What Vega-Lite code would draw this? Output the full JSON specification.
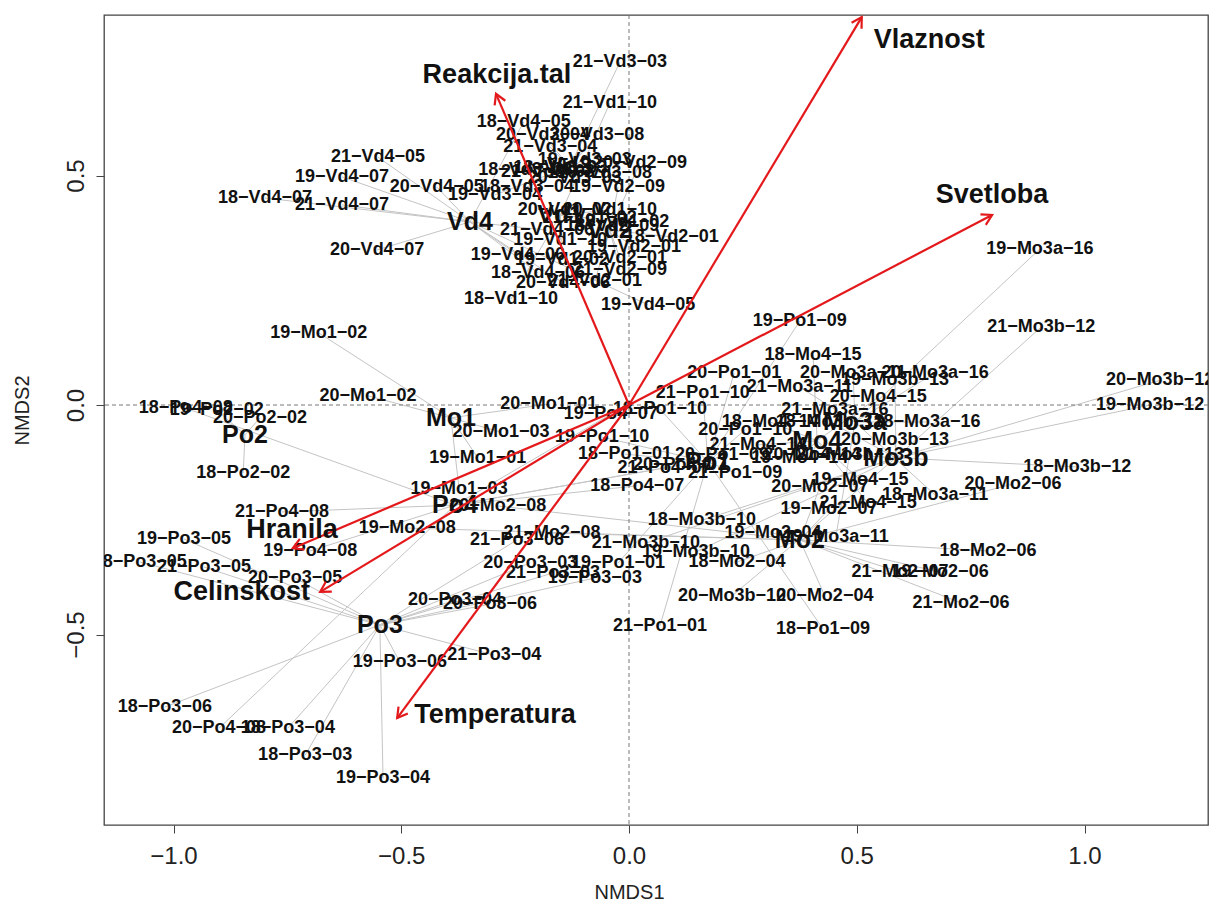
{
  "$schema": "https://vega.github.io/schema/vega-lite/v6.json",
  "width": 1104,
  "height": 810,
  "autosize": {"type": "none"},
  "padding": {"left": 104, "top": 15, "right": 4, "bottom": 86},
  "background": "white",
  "config": {
    "font": "Liberation Sans",
    "view": {"stroke": "#444", "strokeWidth": 1.3},
    "axis": {"grid": false, "domain": false, "tickColor": "#444", "tickSize": 8, "labelFont": "Liberation Sans", "labelFontSize": 24, "labelColor": "#222", "titleFont": "Liberation Sans", "titleFontSize": 20, "titleFontWeight": "normal", "titleColor": "#222"}
  },
  "datasets": {
    "sites": [
      {"label": "18−Vd4−05", "group": "Vd4", "x": -0.231, "y": 0.617},
      {"label": "21−Vd4−05", "group": "Vd4", "x": -0.551, "y": 0.540},
      {"label": "19−Vd4−07", "group": "Vd4", "x": -0.630, "y": 0.497},
      {"label": "20−Vd4−05", "group": "Vd4", "x": -0.422, "y": 0.475},
      {"label": "18−Vd4−07", "group": "Vd4", "x": -0.799, "y": 0.451},
      {"label": "21−Vd4−07", "group": "Vd4", "x": -0.630, "y": 0.436},
      {"label": "20−Vd4−07", "group": "Vd4", "x": -0.553, "y": 0.338},
      {"label": "19−Vd4−06", "group": "Vd4", "x": -0.244, "y": 0.327},
      {"label": "18−Vd4−06", "group": "Vd4", "x": -0.200, "y": 0.288},
      {"label": "20−Vd4−06", "group": "Vd4", "x": -0.145, "y": 0.266},
      {"label": "19−Vd4−05", "group": "Vd4", "x": 0.042, "y": 0.218},
      {"label": "21−Vd4−06", "group": "Vd4", "x": -0.180, "y": 0.381},
      {"label": "21−Vd3−03", "group": "Vd3", "x": -0.020, "y": 0.747},
      {"label": "20−Vd3−04", "group": "Vd3", "x": -0.189, "y": 0.588},
      {"label": "20−Vd3−08", "group": "Vd3", "x": -0.070, "y": 0.588},
      {"label": "21−Vd3−04", "group": "Vd3", "x": -0.173, "y": 0.562},
      {"label": "18−Vd3−08", "group": "Vd3", "x": -0.228, "y": 0.512},
      {"label": "19−Vd3−08", "group": "Vd3", "x": -0.053, "y": 0.505},
      {"label": "18−Vd3−04", "group": "Vd3", "x": -0.224, "y": 0.475},
      {"label": "19−Vd3−04", "group": "Vd3", "x": -0.294, "y": 0.458},
      {"label": "18−Vd3−03", "group": "Vd3", "x": -0.151, "y": 0.516},
      {"label": "19−Vd3−03", "group": "Vd3", "x": -0.097, "y": 0.534},
      {"label": "20−Vd3−03", "group": "Vd3", "x": -0.119, "y": 0.495},
      {"label": "21−Vd3−08", "group": "Vd3", "x": -0.178, "y": 0.508},
      {"label": "21−Vd1−10", "group": "Vd1", "x": -0.042, "y": 0.658},
      {"label": "20−Vd1−02", "group": "Vd1", "x": -0.141, "y": 0.425},
      {"label": "20−Vd1−10", "group": "Vd1", "x": -0.042, "y": 0.425},
      {"label": "18−Vd1−02", "group": "Vd1", "x": -0.015, "y": 0.399},
      {"label": "19−Vd1−10", "group": "Vd1", "x": -0.151, "y": 0.359},
      {"label": "19−Vd1−02", "group": "Vd1", "x": -0.147, "y": 0.316},
      {"label": "18−Vd1−10", "group": "Vd1", "x": -0.259, "y": 0.231},
      {"label": "21−Vd1−02", "group": "Vd1", "x": -0.086, "y": 0.407},
      {"label": "20−Vd2−09", "group": "Vd2", "x": 0.024, "y": 0.527},
      {"label": "19−Vd2−09", "group": "Vd2", "x": -0.024, "y": 0.475},
      {"label": "18−Vd2−01", "group": "Vd2", "x": 0.094, "y": 0.366},
      {"label": "19−Vd2−01", "group": "Vd2", "x": 0.011, "y": 0.344},
      {"label": "20−Vd2−01", "group": "Vd2", "x": -0.020, "y": 0.320},
      {"label": "21−Vd2−09", "group": "Vd2", "x": -0.020, "y": 0.294},
      {"label": "21−Vd2−01", "group": "Vd2", "x": -0.075, "y": 0.270},
      {"label": "18−Vd2−09", "group": "Vd2", "x": -0.037, "y": 0.390},
      {"label": "19−Mo1−02", "group": "Mo1", "x": -0.681, "y": 0.157},
      {"label": "20−Mo1−02", "group": "Mo1", "x": -0.573, "y": 0.020},
      {"label": "20−Mo1−01", "group": "Mo1", "x": -0.176, "y": 0.002},
      {"label": "20−Mo1−03", "group": "Mo1", "x": -0.281, "y": -0.059},
      {"label": "19−Mo1−01", "group": "Mo1", "x": -0.332, "y": -0.115},
      {"label": "19−Mo1−03", "group": "Mo1", "x": -0.373, "y": -0.183},
      {"label": "19−Po2−02", "group": "Po2", "x": -0.905, "y": -0.011},
      {"label": "20−Po2−02", "group": "Po2", "x": -0.810, "y": -0.028},
      {"label": "18−Po2−02", "group": "Po2", "x": -0.847, "y": -0.148},
      {"label": "18−Po4−08", "group": "Po4", "x": -0.973, "y": -0.007},
      {"label": "19−Po4−07", "group": "Po4", "x": -0.040, "y": -0.020},
      {"label": "21−Po4−08", "group": "Po4", "x": -0.762, "y": -0.233},
      {"label": "19−Po4−08", "group": "Po4", "x": -0.700, "y": -0.318},
      {"label": "18−Po4−07", "group": "Po4", "x": 0.018, "y": -0.176},
      {"label": "20−Po4−08", "group": "Po4", "x": -0.900, "y": -0.704},
      {"label": "21−Po4−07", "group": "Po4", "x": 0.078, "y": -0.137},
      {"label": "20−Po4−07", "group": "Po4", "x": 0.112, "y": -0.131},
      {"label": "19−Po3−05", "group": "Po3", "x": -0.977, "y": -0.292},
      {"label": "18−Po3−05", "group": "Po3", "x": -1.074, "y": -0.342},
      {"label": "21−Po3−05", "group": "Po3", "x": -0.933, "y": -0.353},
      {"label": "20−Po3−05", "group": "Po3", "x": -0.733, "y": -0.377},
      {"label": "21−Po3−06", "group": "Po3", "x": -0.246, "y": -0.294},
      {"label": "20−Po3−03", "group": "Po3", "x": -0.217, "y": -0.344},
      {"label": "21−Po3−03", "group": "Po3", "x": -0.167, "y": -0.366},
      {"label": "19−Po3−03", "group": "Po3", "x": -0.075, "y": -0.377},
      {"label": "20−Po3−04", "group": "Po3", "x": -0.382, "y": -0.425},
      {"label": "20−Po3−06", "group": "Po3", "x": -0.305, "y": -0.434},
      {"label": "21−Po3−04", "group": "Po3", "x": -0.296, "y": -0.545},
      {"label": "19−Po3−06", "group": "Po3", "x": -0.503, "y": -0.560},
      {"label": "18−Po3−06", "group": "Po3", "x": -1.019, "y": -0.658},
      {"label": "18−Po3−04", "group": "Po3", "x": -0.749, "y": -0.704},
      {"label": "18−Po3−03", "group": "Po3", "x": -0.711, "y": -0.763},
      {"label": "19−Po3−04", "group": "Po3", "x": -0.540, "y": -0.813},
      {"label": "19−Po1−09", "group": "Po1", "x": 0.375, "y": 0.183},
      {"label": "20−Po1−01", "group": "Po1", "x": 0.231, "y": 0.070},
      {"label": "21−Po1−10", "group": "Po1", "x": 0.162, "y": 0.026},
      {"label": "18−Po1−10", "group": "Po1", "x": 0.068, "y": -0.009},
      {"label": "19−Po1−10", "group": "Po1", "x": -0.059, "y": -0.070},
      {"label": "18−Po1−01", "group": "Po1", "x": -0.009, "y": -0.107},
      {"label": "21−Po1−09", "group": "Po1", "x": 0.233, "y": -0.148},
      {"label": "19−Po1−01", "group": "Po1", "x": -0.024, "y": -0.344},
      {"label": "21−Po1−01", "group": "Po1", "x": 0.068, "y": -0.481},
      {"label": "18−Po1−09", "group": "Po1", "x": 0.426, "y": -0.488},
      {"label": "20−Po1−10", "group": "Po1", "x": 0.255, "y": -0.054},
      {"label": "20−Po1−09", "group": "Po1", "x": 0.204, "y": -0.109},
      {"label": "19−Mo2−08", "group": "Mo2", "x": -0.487, "y": -0.268},
      {"label": "20−Mo2−08", "group": "Mo2", "x": -0.288, "y": -0.220},
      {"label": "21−Mo2−08", "group": "Mo2", "x": -0.169, "y": -0.279},
      {"label": "18−Mo2−04", "group": "Mo2", "x": 0.237, "y": -0.342},
      {"label": "19−Mo2−04", "group": "Mo2", "x": 0.316, "y": -0.279},
      {"label": "20−Mo2−04", "group": "Mo2", "x": 0.430, "y": -0.416},
      {"label": "18−Mo2−06", "group": "Mo2", "x": 0.788, "y": -0.318},
      {"label": "21−Mo2−06", "group": "Mo2", "x": 0.729, "y": -0.431},
      {"label": "19−Mo2−06", "group": "Mo2", "x": 0.683, "y": -0.364},
      {"label": "21−Mo2−07", "group": "Mo2", "x": 0.595, "y": -0.364},
      {"label": "20−Mo2−06", "group": "Mo2", "x": 0.843, "y": -0.172},
      {"label": "19−Mo2−07", "group": "Mo2", "x": 0.439, "y": -0.227},
      {"label": "20−Mo2−07", "group": "Mo2", "x": 0.419, "y": -0.179},
      {"label": "18−Mo4−15", "group": "Mo4", "x": 0.404, "y": 0.109},
      {"label": "20−Mo4−15", "group": "Mo4", "x": 0.547, "y": 0.017},
      {"label": "19−Mo4−15", "group": "Mo4", "x": 0.507, "y": -0.163},
      {"label": "21−Mo4−15", "group": "Mo4", "x": 0.525, "y": -0.214},
      {"label": "21−Mo4−14", "group": "Mo4", "x": 0.283, "y": -0.087},
      {"label": "20−Mo4−14", "group": "Mo4", "x": 0.402, "y": -0.109},
      {"label": "18−Mo4−14", "group": "Mo4", "x": 0.310, "y": -0.037},
      {"label": "19−Mo4−14", "group": "Mo4", "x": 0.375, "y": -0.115},
      {"label": "19−Mo3a−16", "group": "Mo3a", "x": 0.902, "y": 0.340},
      {"label": "20−Mo3a−16", "group": "Mo3a", "x": 0.672, "y": 0.070},
      {"label": "20−Mo3a−11", "group": "Mo3a", "x": 0.492, "y": 0.070},
      {"label": "21−Mo3a−11", "group": "Mo3a", "x": 0.375, "y": 0.039},
      {"label": "18−Mo3a−16", "group": "Mo3a", "x": 0.654, "y": -0.037},
      {"label": "18−Mo3a−11", "group": "Mo3a", "x": 0.672, "y": -0.196},
      {"label": "19−Mo3a−11", "group": "Mo3a", "x": 0.454, "y": -0.288},
      {"label": "21−Mo3a−16", "group": "Mo3a", "x": 0.452, "y": -0.011},
      {"label": "21−Mo3b−12", "group": "Mo3b", "x": 0.905, "y": 0.170},
      {"label": "20−Mo3b−12", "group": "Mo3b", "x": 1.166, "y": 0.054},
      {"label": "19−Mo3b−12", "group": "Mo3b", "x": 1.144, "y": 0.000},
      {"label": "18−Mo3b−12", "group": "Mo3b", "x": 0.984, "y": -0.135},
      {"label": "20−Mo3b−13", "group": "Mo3b", "x": 0.584, "y": -0.076},
      {"label": "19−Mo3b−13", "group": "Mo3b", "x": 0.584, "y": 0.054},
      {"label": "18−Mo3b−13", "group": "Mo3b", "x": 0.441, "y": -0.037},
      {"label": "21−Mo3b−13", "group": "Mo3b", "x": 0.485, "y": -0.109},
      {"label": "21−Mo3b−10", "group": "Mo3b", "x": 0.037, "y": -0.301},
      {"label": "18−Mo3b−10", "group": "Mo3b", "x": 0.160, "y": -0.251},
      {"label": "19−Mo3b−10", "group": "Mo3b", "x": 0.147, "y": -0.320},
      {"label": "20−Mo3b−10", "group": "Mo3b", "x": 0.226, "y": -0.416}
    ],
    "centroids": [
      {"group": "Vd4", "cx": -0.349, "cy": 0.399},
      {"group": "Vd3", "cx": -0.130, "cy": 0.519},
      {"group": "Vd1", "cx": -0.151, "cy": 0.414},
      {"group": "Vd2", "cx": -0.042, "cy": 0.381},
      {"group": "Mo1", "cx": -0.391, "cy": -0.028},
      {"group": "Po2", "cx": -0.843, "cy": -0.065},
      {"group": "Po4", "cx": -0.382, "cy": -0.218},
      {"group": "Po3", "cx": -0.547, "cy": -0.479},
      {"group": "Po1", "cx": 0.173, "cy": -0.124},
      {"group": "Mo4", "cx": 0.413, "cy": -0.078},
      {"group": "Mo3a", "cx": 0.496, "cy": -0.037},
      {"group": "Mo3b", "cx": 0.586, "cy": -0.115},
      {"group": "Mo2", "cx": 0.375, "cy": -0.294}
    ],
    "vectors": [
      {"name": "Vlaznost", "x": 0.511, "y": 0.845, "lx": 0.659, "ly": 0.795},
      {"name": "Reakcija.tal", "x": -0.292, "y": 0.678, "lx": -0.290, "ly": 0.719},
      {"name": "Svetloba", "x": 0.797, "y": 0.414, "lx": 0.797, "ly": 0.457},
      {"name": "Hranila", "x": -0.738, "y": -0.312, "lx": -0.740, "ly": -0.272},
      {"name": "Celinskost", "x": -0.678, "y": -0.407, "lx": -0.850, "ly": -0.407},
      {"name": "Temperatura", "x": -0.509, "y": -0.682, "lx": -0.294, "ly": -0.675}
    ]
  },
  "layer": [
    {
      "data": {"name": "sites"},
      "transform": [{"lookup": "group", "from": {"data": {"name": "centroids"}, "key": "group", "fields": ["cx", "cy"]}}],
      "mark": {"type": "rule", "color": "#c4c4c4", "strokeWidth": 1, "clip": true},
      "encoding": {
        "x": {"field": "x", "type": "quantitative", "scale": {"domain": [-1.1526, 1.2711], "nice": false, "zero": false}, "axis": {"values": [-1, -0.5, 0, 0.5, 1], "format": ".1f", "title": "NMDS1", "labelPadding": 11, "titlePadding": 14, "titleX": 525}},
        "y": {"field": "y", "type": "quantitative", "scale": {"domain": [-0.915, 0.8497], "nice": false, "zero": false}, "axis": {"values": [-0.5, 0, 0.5], "format": ".1f", "title": "NMDS2", "labelAngle": -90, "labelAlign": "center", "labelBaseline": "bottom", "labelPadding": 8, "titlePadding": 32, "titleY": 395}},
        "x2": {"field": "cx"},
        "y2": {"field": "cy"}
      }
    },
    {
      "data": {"values": [{}]},
      "mark": {"type": "rule", "color": "#777", "strokeWidth": 1, "strokeDash": [4, 3]},
      "encoding": {"x": {"datum": 0, "type": "quantitative"}}
    },
    {
      "data": {"values": [{}]},
      "mark": {"type": "rule", "color": "#777", "strokeWidth": 1, "strokeDash": [4, 3]},
      "encoding": {"y": {"datum": 0, "type": "quantitative"}}
    },
    {
      "data": {"name": "sites"},
      "mark": {"type": "text", "font": "Liberation Sans", "fontSize": 18, "fontWeight": "bold", "color": "#111", "align": "center", "baseline": "middle", "clip": true},
      "encoding": {
        "x": {"field": "x", "type": "quantitative"},
        "y": {"field": "y", "type": "quantitative"},
        "text": {"field": "label"}
      }
    },
    {
      "data": {"name": "centroids"},
      "mark": {"type": "text", "font": "Liberation Sans", "fontSize": 25, "fontWeight": "bold", "color": "#111", "align": "center", "baseline": "middle"},
      "encoding": {
        "x": {"field": "cx", "type": "quantitative"},
        "y": {"field": "cy", "type": "quantitative"},
        "text": {"field": "group"}
      }
    },
    {
      "data": {"name": "vectors"},
      "mark": {"type": "rule", "color": "#e3191c", "strokeWidth": 2.2},
      "encoding": {
        "x": {"field": "x", "type": "quantitative"},
        "y": {"field": "y", "type": "quantitative"},
        "x2": {"datum": 0},
        "y2": {"datum": 0}
      }
    },
    {
      "data": {"name": "vectors"},
      "transform": [{"calculate": "atan2(datum.x, datum.y) * 180 / PI", "as": "ang"}],
      "mark": {"type": "point", "shape": "M-0.52,0.9L0,0L0.52,0.9", "filled": false, "color": "#e3191c", "strokeWidth": 2.2, "opacity": 1, "size": 500},
      "encoding": {
        "x": {"field": "x", "type": "quantitative"},
        "y": {"field": "y", "type": "quantitative"},
        "angle": {"field": "ang", "type": "quantitative", "scale": null}
      }
    },
    {
      "data": {"name": "vectors"},
      "mark": {"type": "text", "font": "Liberation Sans", "fontSize": 27, "fontWeight": "bold", "color": "#111", "align": "center", "baseline": "middle"},
      "encoding": {
        "x": {"field": "lx", "type": "quantitative"},
        "y": {"field": "ly", "type": "quantitative"},
        "text": {"field": "name"}
      }
    }
  ]
}
